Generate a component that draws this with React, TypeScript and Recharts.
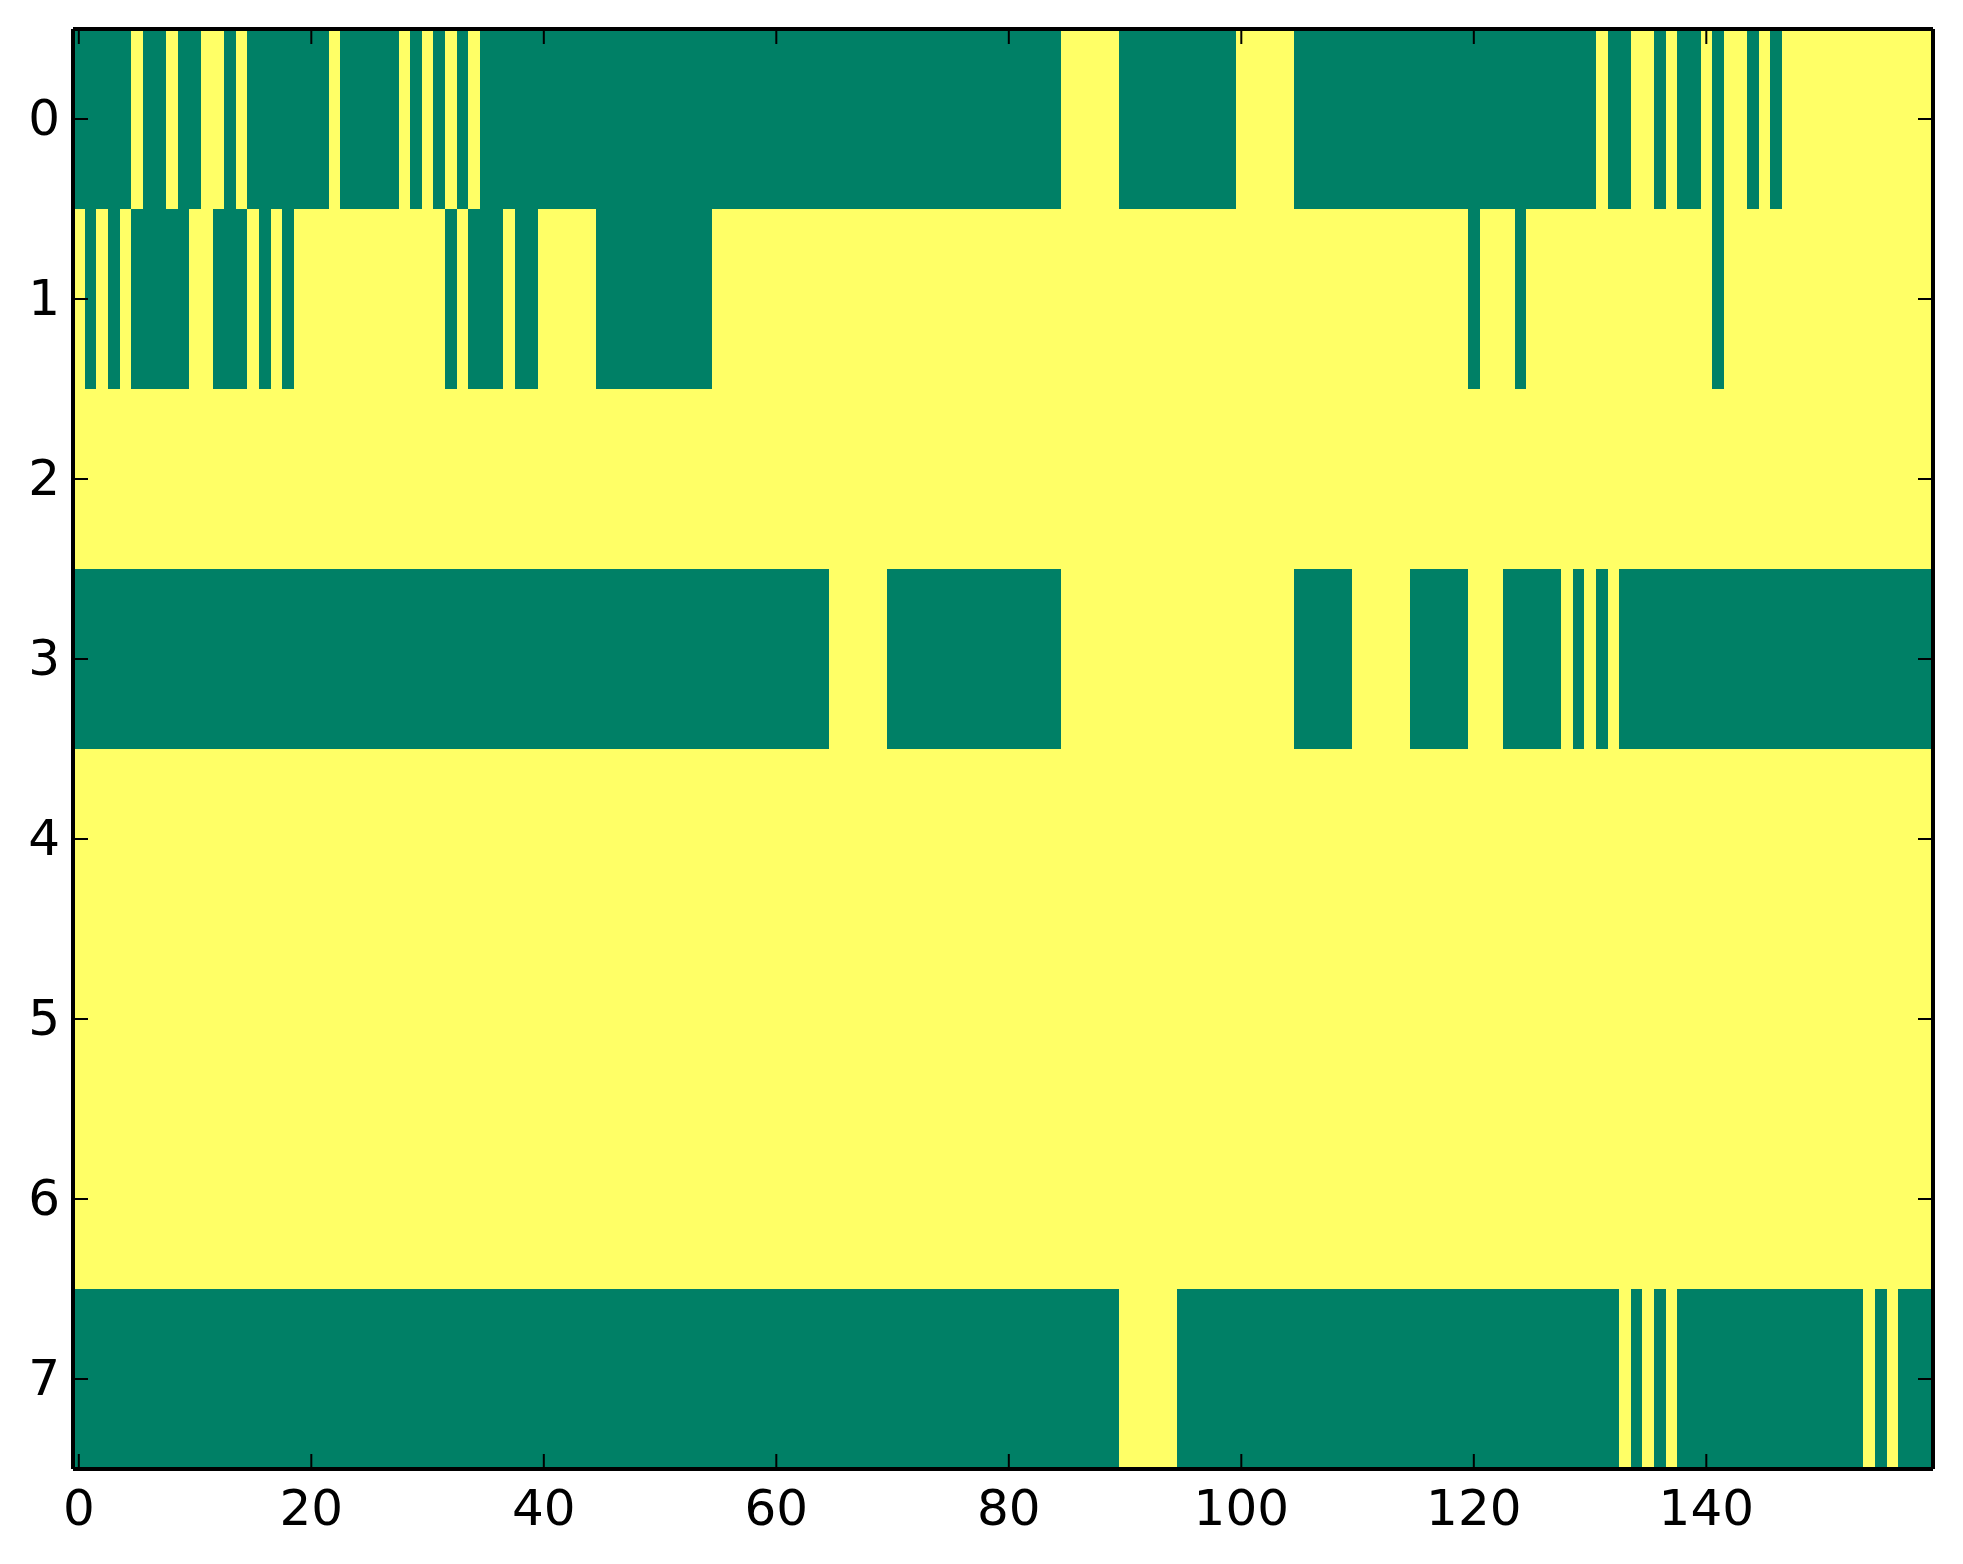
import React from "react";
import { ScatterChart, Scatter, XAxis, YAxis, ReferenceArea } from "recharts";

// One string per image row, columns grouped in tens. 0 = low (green), 1 = high (yellow)
const ROW_0 =
  "0000010010 0110100000 0010000010 1010100000 0000000000 0000000000 0000000000 0000000000 0000011111 0000000000 1111100000 0000000000 0000000000 0100110100 1011010111 1111111111";
const ROW_1 =
  "1010100000 1100010101 1111111111 1101000100 1111100000 0000011111 1111111111 1111111111 1111111111 1111111111 1111111111 1111111111 0111011111 1111111111 1011111111 1111111111";
const ROW_2 =
  "1111111111 1111111111 1111111111 1111111111 1111111111 1111111111 1111111111 1111111111 1111111111 1111111111 1111111111 1111111111 1111111111 1111111111 1111111111 1111111111";
const ROW_3 =
  "0000000000 0000000000 0000000000 0000000000 0000000000 0000000000 0000011111 0000000000 0000011111 1111111111 1111100000 1111100000 1110000010 1010000000 0000000000 0000000000";
const ROW_4 =
  "1111111111 1111111111 1111111111 1111111111 1111111111 1111111111 1111111111 1111111111 1111111111 1111111111 1111111111 1111111111 1111111111 1111111111 1111111111 1111111111";
const ROW_5 =
  "1111111111 1111111111 1111111111 1111111111 1111111111 1111111111 1111111111 1111111111 1111111111 1111111111 1111111111 1111111111 1111111111 1111111111 1111111111 1111111111";
const ROW_6 =
  "1111111111 1111111111 1111111111 1111111111 1111111111 1111111111 1111111111 1111111111 1111111111 1111111111 1111111111 1111111111 1111111111 1111111111 1111111111 1111111111";
const ROW_7 =
  "0000000000 0000000000 0000000000 0000000000 0000000000 0000000000 0000000000 0000000000 0000000000 1111100000 0000000000 0000000000 0000000000 0001010100 0000000000 0000101000";

const ROWS = [ROW_0, ROW_1, ROW_2, ROW_3, ROW_4, ROW_5, ROW_6, ROW_7];
const X_TICKS = [0, 20, 40, 60, 80, 100, 120, 140];
const Y_TICKS = [0, 1, 2, 3, 4, 5, 6, 7];

// matplotlib "summer" ends
const LOW_COLOR = "#008066";
const HIGH_COLOR = "#ffff66";

const FONT = { fill: "#000", fontSize: 50, fontFamily: "DejaVu Sans" };

interface Run {
  row: number;
  from: number;
  to: number;
  value: number;
  x: number;
  y: number;
}

// merge neighbouring equal cells of a row into one block
function toRuns(row: string, rowIndex: number): Run[] {
  const cells = row.replace(/ /g, "").split("").map(Number);
  const runs: Run[] = [];
  let start = 0;
  for (let i = 1; i <= cells.length; i++) {
    if (i === cells.length || cells[i] !== cells[start]) {
      runs.push({
        row: rowIndex,
        from: start,
        to: i - 1,
        value: cells[start],
        x: (start + i - 1) / 2,
        y: rowIndex,
      });
      start = i;
    }
  }
  return runs;
}

const ALL_RUNS = ROWS.flatMap((r, i) => toRuns(r, i));
const NCOLS = ROW_0.replace(/ /g, "").length;

const CellRect = (props: any) => (
  <rect
    x={props.x}
    y={props.y}
    width={props.width}
    height={props.height}
    fill={props.fill}
    shapeRendering="crispEdges"
  />
);

const Nothing = () => <g />;

const AXIS_LINE = { stroke: "#000", strokeWidth: 4 };
const TICK_LINE = { stroke: "#000", strokeWidth: 2 };

export default function App() {
  return (
    <div style={{ position: "absolute", left: 0, top: 0, background: "#fff" }}>
      <ScatterChart
        width={1963}
        height={1564}
        margin={{ top: 28, right: 29, bottom: 0, left: 0 }}
      >
        <XAxis
          xAxisId="bottom"
          dataKey="x"
          orientation="bottom"
          type="number"
          domain={[-0.5, NCOLS - 0.5]}
          ticks={X_TICKS}
          interval={0}
          allowDataOverflow
          height={95}
          tickSize={-15}
          tickMargin={35}
          tick={FONT}
          axisLine={AXIS_LINE}
          tickLine={TICK_LINE}
        />
        <XAxis
          xAxisId="top"
          dataKey="x"
          orientation="top"
          type="number"
          domain={[-0.5, NCOLS - 0.5]}
          ticks={X_TICKS}
          interval={0}
          allowDataOverflow
          height={1}
          tickSize={-15}
          tick={Nothing}
          axisLine={AXIS_LINE}
          tickLine={TICK_LINE}
        />
        <YAxis
          yAxisId="left"
          dataKey="y"
          orientation="left"
          type="number"
          domain={[-0.5, ROWS.length - 0.5]}
          ticks={Y_TICKS}
          interval={0}
          reversed
          allowDataOverflow
          width={73}
          tickSize={-15}
          tickMargin={28}
          tick={{ ...FONT, dy: -2 }}
          axisLine={AXIS_LINE}
          tickLine={TICK_LINE}
        />
        <YAxis
          yAxisId="right"
          dataKey="y"
          orientation="right"
          type="number"
          domain={[-0.5, ROWS.length - 0.5]}
          ticks={Y_TICKS}
          interval={0}
          reversed
          allowDataOverflow
          width={1}
          tickSize={-15}
          tick={Nothing}
          axisLine={AXIS_LINE}
          tickLine={TICK_LINE}
        />
        {ALL_RUNS.map((run, i) => (
          <ReferenceArea
            key={i}
            xAxisId="bottom"
            yAxisId="left"
            x1={run.from - 0.5}
            x2={run.to + 0.5}
            y1={run.row - 0.5}
            y2={run.row + 0.5}
            fill={run.value ? HIGH_COLOR : LOW_COLOR}
            fillOpacity={1}
            stroke="none"
            ifOverflow="visible"
            shape={CellRect}
          />
        ))}
        <Scatter
          data={ALL_RUNS}
          xAxisId="bottom"
          yAxisId="left"
          shape={Nothing}
          isAnimationActive={false}
        />
        <Scatter
          data={ALL_RUNS}
          xAxisId="top"
          yAxisId="right"
          shape={Nothing}
          isAnimationActive={false}
        />
      </ScatterChart>
    </div>
  );
}
